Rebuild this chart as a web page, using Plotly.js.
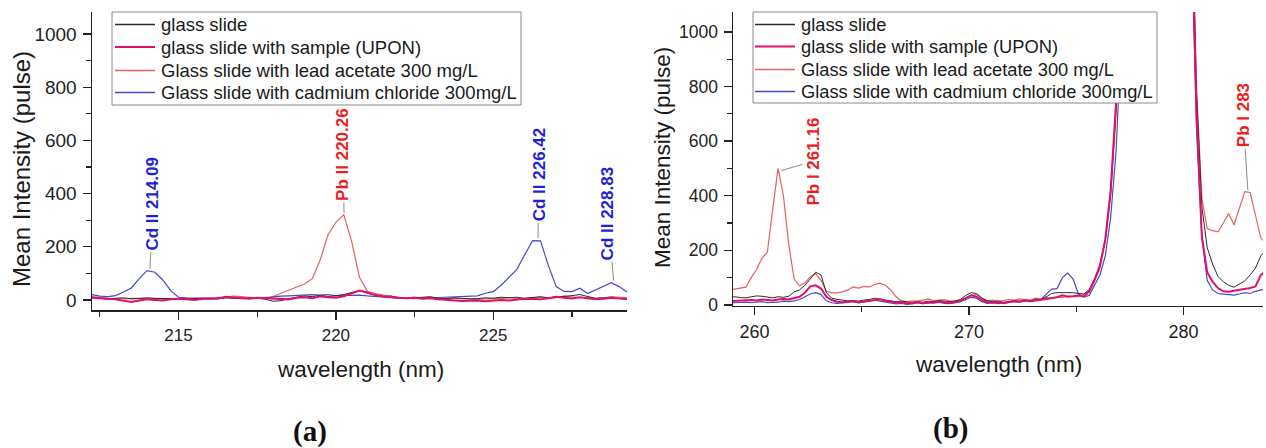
<!DOCTYPE html>
<html>
<head>
<meta charset="utf-8">
<script src="https://cdn.plot.ly/plotly-3.0.1.min.js"></script>
<style>html,body{margin:0;padding:0;background:#fff;}#chart{width:1266px;height:448px;}</style>
</head>
<body>
<div id="chart"></div>
<script>
// ---------- DATA ----------
const seriesNames = [
  "glass slide",
  "glass slide with sample (UPON)",
  "Glass slide with lead acetate 300 mg/L",
  "Glass slide with cadmium chloride 300mg/L"
];

// Panel (a): wavelength (nm)
const waveA = [212.25,212.5,212.75,213,213.25,213.5,213.75,214,214.25,214.5,214.75,215,215.25,215.5,215.75,216,216.25,216.5,216.75,217,217.25,217.5,217.75,218,218.25,218.5,218.75,219,219.25,219.5,219.75,220,220.25,220.5,220.75,221,221.25,221.5,221.75,222,222.25,222.5,222.75,223,223.25,223.5,223.75,224,224.25,224.5,224.75,225,225.25,225.5,225.75,226,226.25,226.5,226.75,227,227.25,227.5,227.75,228,228.25,228.5,228.75,229,229.25];
const glassA = [10,6,2,6,8,4,6,8,6,5,6,4,3,5,6,4,5,8,6,5,4,6,3,-5,-3,5,10,15,12,18,12,15,20,28,35,25,18,12,15,8,6,5,10,12,6,5,8,6,4,5,8,6,10,8,10,6,8,12,8,10,12,16,20,12,6,8,6,5,4];
const uponA = [8,5,4,2,-2,-8,-2,2,0,-2,2,4,2,0,3,5,4,12,8,6,5,8,6,5,4,2,8,10,6,14,10,8,14,25,35,28,18,14,10,8,6,8,4,6,2,0,-2,-4,-3,-2,-5,-3,0,-2,2,4,3,2,6,12,8,5,10,6,2,4,8,5,3];
const leadA = [12,8,6,5,4,6,5,6,4,5,3,4,5,3,6,5,8,10,14,12,8,6,5,12,25,37,48,60,80,150,245,292,320,220,85,32,24,18,12,8,6,5,8,10,6,4,6,5,3,2,4,6,5,8,6,5,8,10,6,8,14,10,8,10,6,8,12,10,8];
const cadA = [20,14,12,16,30,45,80,110,104,75,35,10,8,8,9,7,6,8,10,5,8,6,9,12,14,15,16,18,20,18,20,15,18,17,18,15,12,10,8,6,8,10,8,7,9,10,10,12,12,15,25,31,55,85,115,170,223,222,130,50,32,31,44,24,38,52,65,50,30];

// Panel (b): wavelength (nm)
const waveB = [258.85,259.1,259.35,259.6,259.85,260.1,260.35,260.6,260.85,261.1,261.35,261.6,261.85,262.1,262.35,262.6,262.85,263.1,263.35,263.6,263.85,264.1,264.35,264.6,264.85,265.1,265.35,265.6,265.85,266.1,266.35,266.6,266.85,267.1,267.35,267.6,267.85,268.1,268.35,268.6,268.85,269.1,269.35,269.6,269.85,270.1,270.35,270.6,270.85,271.1,271.35,271.6,271.85,272.1,272.35,272.6,272.85,273.1,273.35,273.6,273.85,274.1,274.35,274.6,274.85,275.1,275.35,275.6,275.85,276.1,276.35,276.6,276.85,277.1,277.35,277.6,277.85,278.1,278.35,278.6,278.85,279.1,279.35,279.6,279.85,280.1,280.35,280.6,280.85,281.1,281.35,281.6,281.85,282.1,282.35,282.6,282.85,283.1,283.35,283.6,283.85];
const glassB = [28,30,27,26,30,33,32,28,26,30,28,32,48,55,72,95,120,110,45,25,20,18,15,16,14,18,20,25,20,18,15,12,14,10,8,12,10,14,12,16,14,12,15,20,35,45,42,25,15,12,14,10,12,16,14,18,15,20,18,30,42,45,45,44,45,42,40,55,95,145,235,410,720,1100,1800,2600,3500,4200,4600,4800,4800,4700,4500,4000,3200,2300,1500,780,360,210,150,105,85,72,65,75,88,110,135,180,200];
const uponB = [14,15,17,16,18,16,20,18,16,20,22,20,25,30,45,68,72,60,30,18,12,10,12,14,10,12,15,18,22,15,12,8,10,5,8,10,6,10,8,12,10,8,10,15,25,35,30,18,10,8,12,6,10,14,12,18,14,16,18,22,25,28,35,30,32,35,30,50,90,140,240,420,740,1120,1800,2600,3500,4200,4600,4800,4800,4700,4500,4000,3200,2300,1500,700,250,120,85,62,50,48,52,55,58,62,68,110,125];
const leadB = [55,58,60,65,100,130,172,192,350,500,400,220,95,70,80,103,115,90,50,44,44,48,55,66,62,68,66,75,80,72,55,30,15,12,15,14,18,22,16,18,20,15,12,18,25,35,38,25,15,18,14,16,20,18,22,20,18,25,22,28,24,30,28,32,30,30,38,55,95,150,240,400,700,1100,1800,2600,3500,4200,4600,4800,4800,4700,4500,4000,3200,2300,1500,800,390,280,272,268,300,335,293,350,415,412,330,245,225];
const cadB = [10,8,9,10,8,10,12,8,9,10,14,12,15,20,30,40,45,38,15,8,6,8,10,12,8,10,14,18,15,10,8,4,6,2,4,8,5,6,8,10,6,5,8,12,20,28,25,12,6,8,5,8,10,12,10,15,12,18,20,40,58,60,100,117,95,40,30,35,70,110,180,320,560,900,1400,2200,3200,4000,4500,4700,4700,4600,4400,3900,3100,2200,1400,650,250,90,55,42,40,38,36,40,45,42,50,55,58];

// Peak labels
const peakTextA = ["Cd II 214.09","Pb II 220.26","Cd II 226.42","Cd II 228.83"];
const peakWaveA = [214.09,220.26,226.42,228.83];
const peakIntA = [110,320,224,65];
const peakTextB = ["Pb I 261.16","Pb I 283"];
const peakWaveB = [261.16,283.0];
const peakIntB = [490,413];

// ---------- STYLE ----------
const W = 1266, H = 448;
const px = v => v / W;
const py = v => 1 - v / H;
const FONT = "Liberation Sans, Arial, sans-serif";
const colors = ["#2b2b2b", "#e0106a", "#e06262", "#4848c8"];
const widths = [1, 2, 1.2, 1.2];
const BLUE = "#1f1fd6", RED = "#ee1c1c";
const peakColorA = [BLUE, RED, BLUE, BLUE];
const peakColorB = [RED, RED];
const peakOffA = [[3,-67],[-1,-60],[1,-66],[-6,-69]];
const peakOffB = [[34,-10],[-5,-77]];

const dataA = [glassA, uponA, leadA, cadA];
const dataB = [glassB, uponB, leadB, cadB];
const drawOrder = [2, 3, 0, 1];

const traces = [];
drawOrder.forEach(i => {
  traces.push({
    x: waveA, y: dataA[i], type: "scatter", mode: "lines", name: seriesNames[i],
    line: {color: colors[i], width: widths[i]}, xaxis: "x", yaxis: "y",
    showlegend: false, hoverinfo: "skip"
  });
});
drawOrder.forEach(i => {
  traces.push({
    x: waveB, y: dataB[i], type: "scatter", mode: "lines", name: seriesNames[i],
    line: {color: colors[i], width: widths[i]}, xaxis: "x2", yaxis: "y2",
    showlegend: false, hoverinfo: "skip"
  });
});

function axisBase(extra) {
  return Object.assign({
    showline: true, linecolor: "#222", linewidth: 1.5, mirror: false,
    ticks: "outside", ticklen: 8, tickwidth: 1.3, tickcolor: "#222",
    showgrid: false, zeroline: false, fixedrange: true,
    tickfont: {family: FONT, size: 17, color: "#222"}
  }, extra);
}

const annotations = [];
const shapes = [];
peakTextA.forEach((t, k) => annotations.push({
  xref: "x", yref: "y", x: peakWaveA[k], y: peakIntA[k], text: "<b>" + t + "</b>",
  textangle: -90, showarrow: true, arrowhead: 0, arrowwidth: 1, arrowcolor: "#8a8a8a",
  ax: peakOffA[k][0], ay: peakOffA[k][1], standoff: 2,
  font: {family: FONT, size: 17, color: peakColorA[k]}
}));
peakTextB.forEach((t, k) => annotations.push({
  xref: "x2", yref: "y2", x: peakWaveB[k], y: peakIntB[k], text: "<b>" + t + "</b>",
  textangle: -90, showarrow: true, arrowhead: 0, arrowwidth: 1, arrowcolor: "#8a8a8a",
  ax: peakOffB[k][0], ay: peakOffB[k][1], standoff: 2,
  font: {family: FONT, size: 17, color: peakColorB[k]}
}));
// axis titles & panel letters
const txt = (text, x, y, size, angle, family, color, anchor) => ({
  xref: "paper", yref: "paper", x: px(x), y: py(y), xanchor: anchor || "center", yanchor: "middle",
  text: text, showarrow: false, textangle: angle || 0,
  font: {family: family || FONT, size: size, color: color || "#1a1a1a"}
});
annotations.push(txt("Mean Intensity (pulse)", 22, 169, 24, -90));
annotations.push(txt("Mean Intensity (pulse)", 662, 158, 22.5, -90));
annotations.push(txt("wavelength (nm)", 360, 369, 22.5));
annotations.push(txt("wavelength (nm)", 998, 364, 22.5));
annotations.push(txt("<b>(a)</b>", 310, 431, 29, 0, "Liberation Serif, DejaVu Serif, serif", "#111"));
annotations.push(txt("<b>(b)</b>", 950, 428, 29, 0, "Liberation Serif, DejaVu Serif, serif", "#111"));

// legend boxes (one per panel)
function addLegend(box, lineX0, lineX1, textX, rows, fsize) {
  shapes.push({type: "rect", xref: "paper", yref: "paper",
    x0: px(box[0]), x1: px(box[1]), y0: py(box[3]), y1: py(box[2]),
    line: {color: "#8a8a8a", width: 1}, fillcolor: "#fff", layer: "above"});
  seriesNames.forEach((n, i) => {
    shapes.push({type: "line", xref: "paper", yref: "paper",
      x0: px(lineX0), x1: px(lineX1), y0: py(rows[i]), y1: py(rows[i]),
      line: {color: colors[i], width: Math.max(widths[i], 1.3)}, layer: "above"});
    annotations.push(txt(n, textX, rows[i], fsize, 0, FONT, "#1a1a1a", "left"));
  });
}
addLegend([112, 521, 12, 105], 115, 155, 159, [24.5, 47, 70.5, 92.5], 18.5);
addLegend([753, 1157, 12, 103], 755, 795, 799, [24.5, 46.5, 69.5, 91.5], 18.3);

const layout = {
  width: W, height: H, margin: {l: 0, r: 0, t: 0, b: 0},
  paper_bgcolor: "#fff", plot_bgcolor: "#fff", showlegend: false,
  font: {family: FONT, color: "#222"},
  xaxis: axisBase({
    domain: [px(92), px(627)], range: [212.25, 229.25], anchor: "y",
    tickvals: [215, 220, 225],
    minor: {tickvals: [212.5, 217.5, 222.5, 227.5], ticks: "outside", ticklen: 5, tickwidth: 1.2, tickcolor: "#222"},
    ticklabelstandoff: 1, tickfont: {family: FONT, size: 17, color: "#222"}
  }),
  yaxis: axisBase({
    domain: [py(310), py(12)], range: [-38, 1083], anchor: "x",
    tickvals: [0, 200, 400, 600, 800, 1000],
    minor: {tickvals: [100, 300, 500, 700, 900], ticks: "outside", ticklen: 5, tickwidth: 1.2, tickcolor: "#222"},
    ticklabelstandoff: 2, tickfont: {family: FONT, size: 19, color: "#222"}
  }),
  xaxis2: axisBase({
    domain: [px(733), px(1263)], range: [259.0, 283.7], anchor: "y2",
    tickvals: [260, 270, 280],
    minor: {tickvals: [265, 275], ticks: "outside", ticklen: 5, tickwidth: 1.2, tickcolor: "#222"},
    ticklabelstandoff: 1, tickfont: {family: FONT, size: 18, color: "#222"}
  }),
  yaxis2: axisBase({
    domain: [py(305.5), py(12)], range: [-2, 1073], anchor: "x2",
    tickvals: [0, 200, 400, 600, 800, 1000],
    minor: {tickvals: [100, 300, 500, 700, 900], ticks: "outside", ticklen: 5, tickwidth: 1.2, tickcolor: "#222"},
    ticklabelstandoff: 2, tickfont: {family: FONT, size: 17.5, color: "#222"}
  }),
  shapes: shapes,
  annotations: annotations
};

Plotly.newPlot("chart", traces, layout, {displayModeBar: false, staticPlot: true});
</script>
</body>
</html>
